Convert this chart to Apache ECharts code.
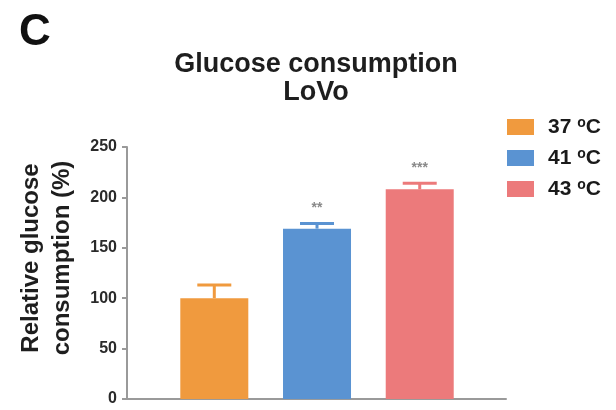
<!DOCTYPE html>
<html>
<head>
<meta charset="utf-8">
<script src="https://cdn.jsdelivr.net/npm/echarts@6/dist/echarts.min.js"></script>
<style>
  html, body { margin: 0; padding: 0; background: #fff; }
  #chart { width: 616px; height: 410px; }
</style>
</head>
<body>
<div id="chart"></div>
<script>
// Glucose consumption in LoVo cells at three temperatures
const groups = ['37 °C', '41 °C', '43 °C'];
const positions = [1, 2, 3];
const means = [100, 169, 208];
const errors = [13, 5, 6];
const marks = ['', '**', '***'];
const colors = ['#F09A3E', '#5A93D2', '#EC7A7B'];
const yTicks = [0, 50, 100, 150, 200, 250];

const FONT = 'Liberation Sans, Arial, sans-serif';
const AXIS = '#9a9a9a';

const barSeries = groups.map((g, i) => ({
  name: g,
  type: 'bar',
  data: [[positions[i], means[i]]],
  barWidth: 68,
  barGap: '-100%',
  itemStyle: { color: colors[i] },
  z: 2
}));

const errorSeries = {
  type: 'custom',
  name: 'sem',
  data: groups.map((g, i) => [positions[i], means[i], means[i] + errors[i], i]),
  renderItem: function (params, api) {
    const i = api.value(3);
    const base = api.coord([api.value(0), api.value(1)]);
    const top = api.coord([api.value(0), api.value(2)]);
    const half = 17;
    const c = colors[i];
    const children = [
      { type: 'line', shape: { x1: base[0], y1: base[1], x2: top[0], y2: top[1] }, style: { stroke: c, lineWidth: 3 } },
      { type: 'line', shape: { x1: top[0] - half, y1: top[1], x2: top[0] + half, y2: top[1] }, style: { stroke: c, lineWidth: 3 } }
    ];
    if (marks[i]) {
      children.push({
        type: 'text',
        style: {
          text: marks[i], x: top[0], y: top[1] - 15,
          align: 'center', verticalAlign: 'middle',
          fill: '#8a8a8a', font: 'bold 14px ' + FONT
        }
      });
    }
    return { type: 'group', children: children };
  },
  z: 3
};

const chart = echarts.init(document.getElementById('chart'));
chart.setOption({
  animation: false,
  backgroundColor: '#fff',
  title: [
    {
      text: 'C', left: 19, top: 11, padding: 0,
      textStyle: { fontFamily: FONT, fontWeight: 'bold', fontSize: 44, color: '#111' }
    },
    {
      text: 'Glucose consumption\nLoVo', left: 316, top: 51, padding: 0, textAlign: 'center',
      textStyle: { fontFamily: FONT, fontWeight: 'bold', fontSize: 27, lineHeight: 28, color: '#1e1e1e' }
    }
  ],
  legend: {
    data: groups,
    orient: 'vertical',
    left: 507, top: 116, padding: 0,
    icon: 'rect',
    itemWidth: 27, itemHeight: 16, itemGap: 9,
    selectedMode: false,
    formatter: function (name) {
      const parts = name.split(' °');
      return '{t|' + parts[0] + ' }{s|o}{t|' + parts[1] + '}';
    },
    textStyle: {
      padding: [0, 0, 0, 9],
      rich: {
        t: { fontFamily: FONT, fontWeight: 'bold', fontSize: 21, lineHeight: 16, color: '#1a1a1a' },
        s: { fontFamily: FONT, fontWeight: 'bold', fontSize: 14, lineHeight: 8, padding: [0, 0, 8, 0], color: '#1a1a1a' }
      }
    }
  },
  graphic: [
    {
      type: 'text', x: 47, y: 258, rotation: Math.PI / 2,
      style: {
        text: 'Relative glucose\nconsumption (%)',
        align: 'center', verticalAlign: 'middle',
        font: 'bold 24px ' + FONT, lineHeight: 31, fill: '#1e1e1e'
      }
    }
  ],
  grid: { left: 127, right: 110, top: 147, bottom: 11 },
  xAxis: {
    type: 'value', min: 0.15, max: 3.84,
    axisLine: { show: true, lineStyle: { color: AXIS, width: 2 } },
    axisTick: { show: false }, axisLabel: { show: false }, splitLine: { show: false }
  },
  yAxis: {
    type: 'value', min: yTicks[0], max: yTicks[yTicks.length - 1], interval: yTicks[1] - yTicks[0],
    axisLine: { show: true, lineStyle: { color: AXIS, width: 2 } },
    axisTick: { show: true, length: 5, lineStyle: { color: AXIS, width: 2 } },
    axisLabel: { margin: 10, fontFamily: FONT, fontWeight: 'bold', fontSize: 16, color: '#2a2a2a' },
    splitLine: { show: false }
  },
  series: barSeries.concat([errorSeries])
});
</script>
</body>
</html>
